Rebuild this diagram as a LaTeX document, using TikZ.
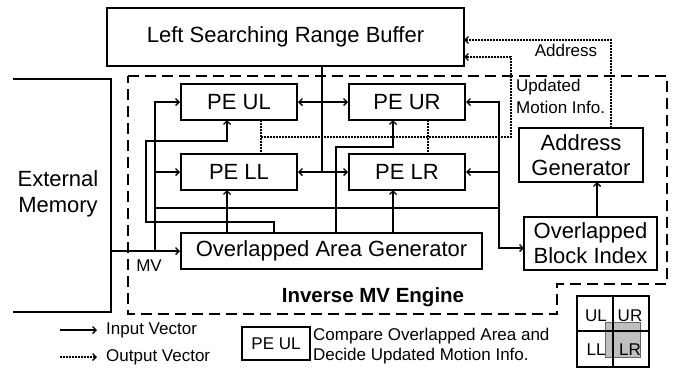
\documentclass[tikz,border=0pt]{standalone}
\usepackage{fontspec}
\setmainfont{Liberation Sans}
\usetikzlibrary{arrows.meta}
\begin{document}
\begin{tikzpicture}[x=1pt,y=-1pt,
  blk/.style={draw,line width=2pt,inner sep=0pt,font=\fontsize{22}{25}\selectfont,align=center},
  conn/.style={line width=1.4pt},
  arr/.style={conn,-{Straight Barb[length=3.5pt,width=7pt]}},
  darr/.style={conn,{Straight Barb[length=3.5pt,width=7pt]}-{Straight Barb[length=3.5pt,width=7pt]}},
  dot/.style={line width=1.3pt,dash pattern=on 1.6pt off 1.4pt},
  dotarr/.style={dot,-{Straight Barb[length=3.5pt,width=7pt]}},
  lbl/.style={font=\fontsize{17}{19}\selectfont,inner sep=0pt}]
\useasboundingbox (0,0) rectangle (679,368);
% dashed engine outline
\draw[line width=1.3pt,dash pattern=on 11pt off 6pt] (128,76) -- (667,76) -- (667,284) -- (557,284) -- (557,314) -- (128,314) -- cycle;
% external memory
\draw[line width=2pt] (13,79) -- (111,79) -- (111,312) -- (13,312);
\node[font=\fontsize{22}{26}\selectfont,align=center] (mem) at (58,194) {External\\Memory};
% blocks
\node[blk,minimum width=357pt,minimum height=58pt] (buf) at (285.5,37) {Left Searching Range Buffer};
\node[blk,minimum width=116pt,minimum height=36pt] (ul) at (239,102) {PE UL};
\node[blk,minimum width=116pt,minimum height=36pt] (ur) at (407,102) {PE UR};
\node[blk,minimum width=116pt,minimum height=36pt] (ll) at (239,172) {PE LL};
\node[blk,minimum width=116pt,minimum height=36pt] (lr) at (407,172) {PE LR};
\node[blk,minimum width=301pt,minimum height=36pt] (oag) at (331.5,251) {Overlapped Area Generator};
\node[blk,minimum width=133pt,minimum height=53pt,font=\fontsize{22}{25}\selectfont] (obi) at (590.5,243.5) {Overlapped\\Block Index};
\node[blk,minimum width=124pt,minimum height=54pt,font=\fontsize{22}{25}\selectfont] (ag) at (581,155) {Address\\Generator};
% coordinates
\coordinate (memout) at (111,251);
\coordinate (jA) at (155,251);
\coordinate (jB) at (155,208);
\coordinate (jC) at (499,208);
\coordinate (bufdown) at (322,66);
\coordinate (bufj) at (322,172);
% buffer to PEs
\draw[conn] (bufdown) -- (bufj);
\draw[darr] (ul.east) -- (ur.west);
\draw[darr] (ll.east) -- (lr.west);
% MV distribution
\draw[arr] (memout) -- (oag.west);
\draw[arr] (jA) -- (155,102) -- (ul.west);
\draw[arr] (155,172) -- (ll.west);
\draw[conn] (jB) -- (jC);
\draw[arr] (jC) -- (499,102) -- (ur.east);
\draw[arr] (499,172) -- (lr.east);
\draw[arr] (jC) -- (499,248) -- (524,248);
% OAG outputs
\draw[arr] (227,233) -- (227,190);
\draw[arr] (274,233) -- (274,222) -- (146,222) -- (146,141) -- (227,141) -- (227,120);
\draw[arr] (393,233) -- (393,190);
\draw[arr] (336,233) -- (336,147) -- (393,147) -- (393,120);
% OBI to AG
\draw[arr] (597,217) -- (597,182);
% dotted outputs
\draw[dot] (261,120) -- (261,154);
\draw[dot] (428,120) -- (428,154);
\draw[dotarr] (261,137) -- (511,137) -- (511,57) -- (464,57);
\draw[dotarr] (611,128) -- (611,40) -- (464,40);
% labels
\node[lbl] (lmv) at (149,266) {MV};
\node[lbl] (laddr) at (566,50) {Address};
\node[lbl,anchor=west] (lupd) at (516,87) {Updated};
\node[lbl,anchor=west] (lmot) at (516,107) {Motion Info.};
\node[font=\fontsize{20.5}{24}\selectfont\bfseries,inner sep=0pt] (leng) at (373,297) {Inverse MV Engine};
% legend
\coordinate (la1) at (60,330);
\coordinate (la2) at (97,330);
\coordinate (lb1) at (60,357);
\coordinate (lb2) at (97,357);
\draw[arr] (la1) -- (la2);
\draw[dotarr] (lb1) -- (lb2);
\node[lbl,anchor=west] (lin) at (106,330) {Input Vector};
\node[lbl,anchor=west] (lout) at (106,357) {Output Vector};
\node[draw,line width=1.4pt,minimum width=68pt,minimum height=33pt,inner sep=0pt,font=\fontsize{17}{19}\selectfont] (lpe) at (276,343.5) {PE UL};
\node[lbl,anchor=west,align=left,font=\fontsize{17}{20.5}\selectfont] (ldesc) at (313,346) {Compare Overlapped Area and\\Decide Updated Motion Info.};
% quadrant icon
\fill[gray!50,draw=black!60,line width=1pt] (605,322) rectangle (640,357);
\draw[line width=1.3pt] (577,296) rectangle (649,367);
\draw[line width=1.3pt] (613,296) -- (613,367);
\draw[line width=1.3pt] (577,331) -- (649,331);
\node[lbl] (qul) at (596,316) {UL};
\node[lbl] (qur) at (630,316) {UR};
\node[lbl] (qll) at (596,350) {LL};
\node[lbl] (qlr) at (630,350) {LR};
\end{tikzpicture}
\end{document}
